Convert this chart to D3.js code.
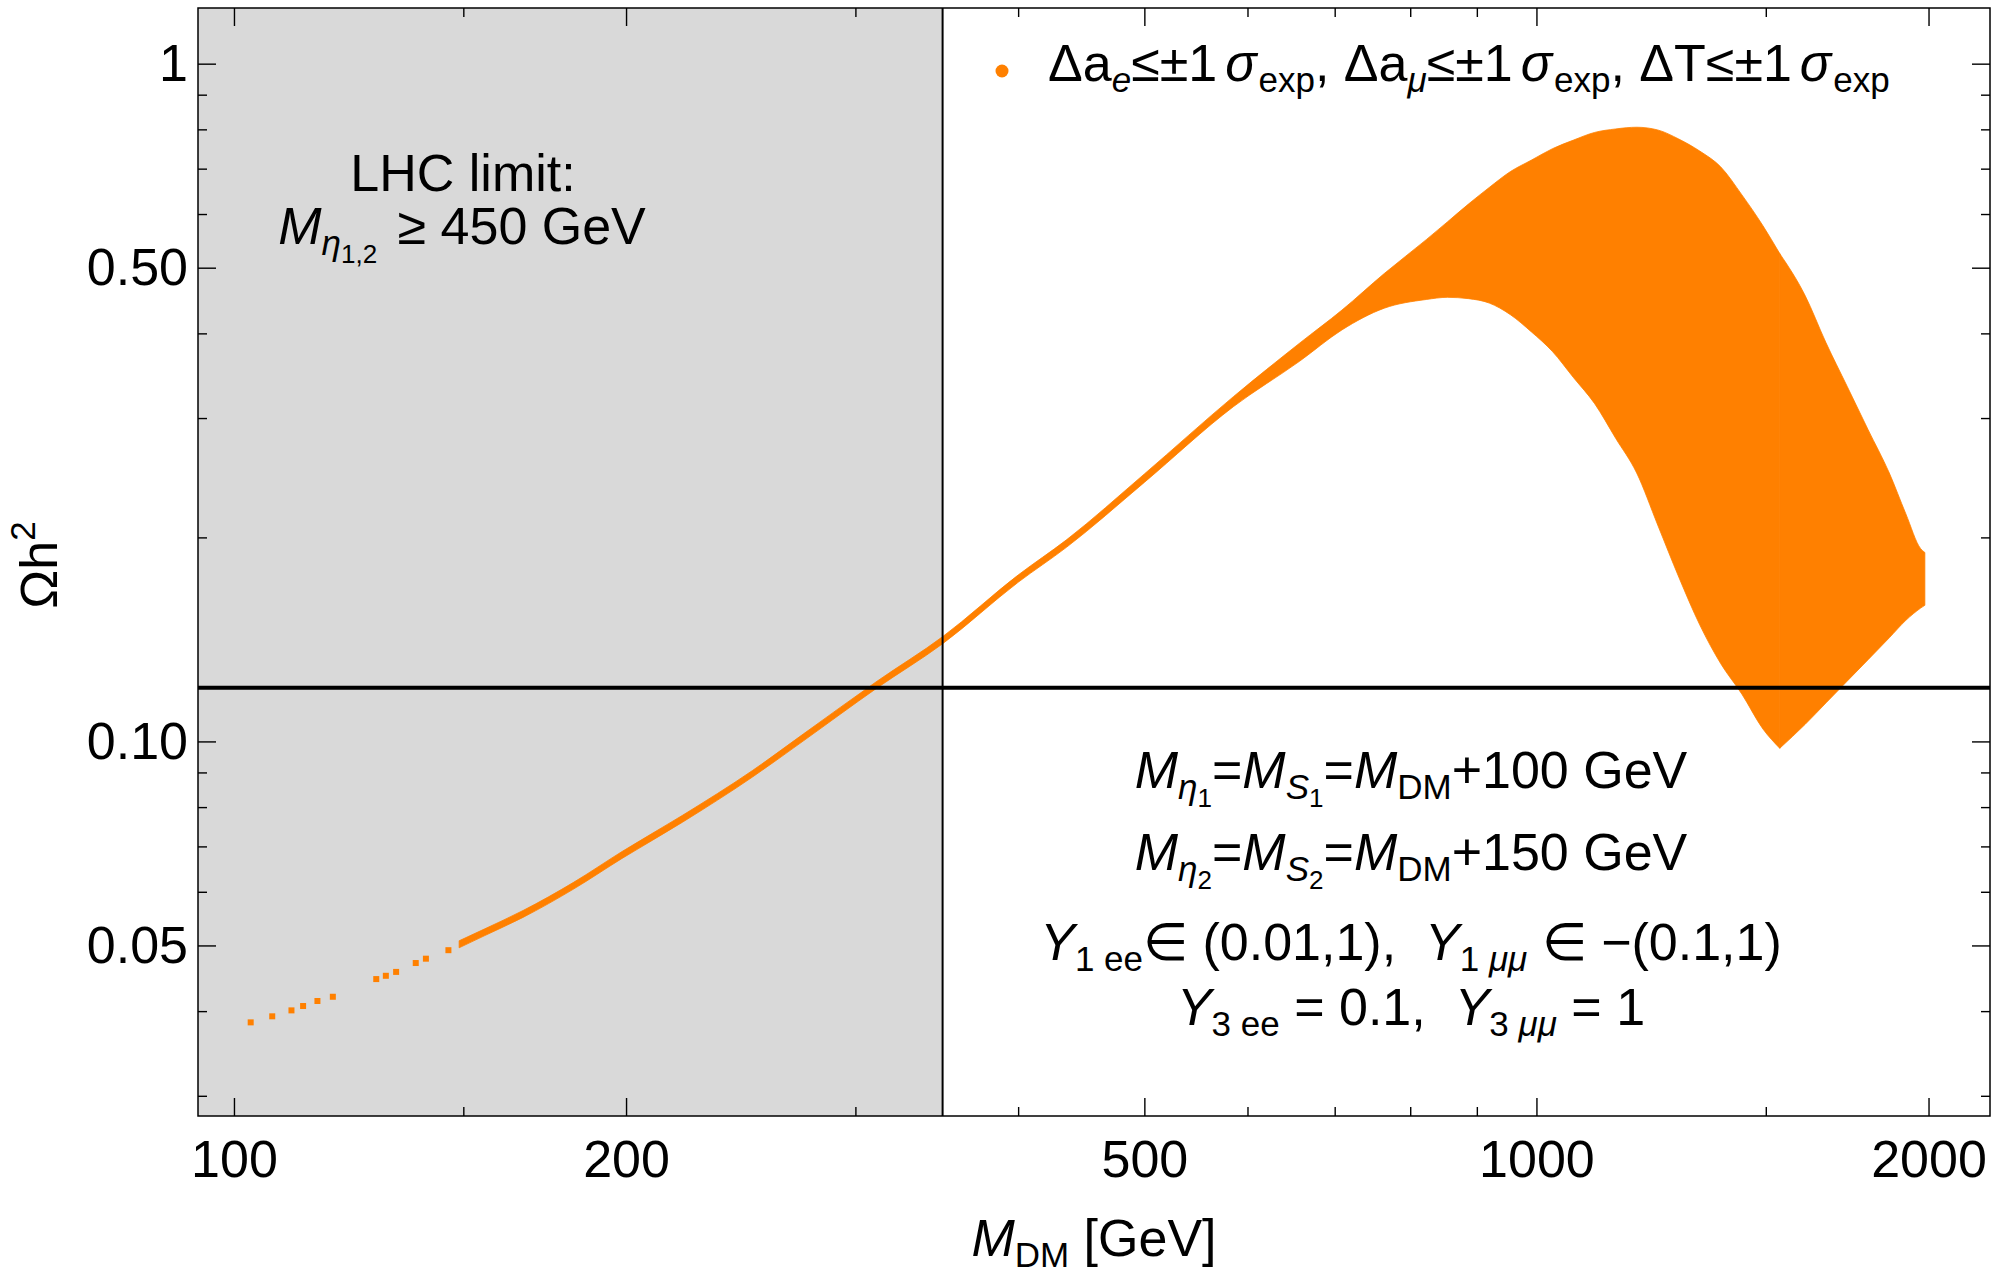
<!DOCTYPE html>
<html lang="en">
<head>
<meta charset="UTF-8">
<title>Relic density vs dark matter mass</title>
<script src="https://d3js.org/d3.v7.min.js"></script>
<style>
  body { margin: 0; background: #fff; }
  svg text { font-family: "Liberation Sans", Arial, Helvetica, sans-serif; fill: #000; white-space: pre; }
</style>
</head>
<body>
<script>
// sparse scan points at the low mass end
var dotMass  = [103.0, 107.0, 110.7, 113.0, 115.9, 119.1, 128.6, 130.8, 133.2, 137.9, 140.4, 146.1];
var dotOmega = [0.0385, 0.0393, 0.0401, 0.0407, 0.0414, 0.0420, 0.0446, 0.0451, 0.0457, 0.0471, 0.0478, 0.0492];

// dense part of the scan, read as upper / lower envelope
var bandMass  = [148.9, 155.8, 166.7, 182.4, 198.6, 221.0, 250.1, 273.7, 311.7, 350.1,
                 400.0, 435.9, 500.0, 585.2, 658.2, 709.0, 764.1, 823.0, 854.3, 886.7,
                 919.9, 955.0, 991.3, 1028.7, 1067.8, 1108.4, 1150.3, 1193.9, 1239.1, 1286.1,
                 1334.7, 1385.3, 1438.0, 1492.5, 1537.5, 1607.6, 1668.6, 1731.9, 1797.3, 1866.0,
                 1921.5, 1972.4, 1987.1];
var bandUpper = [0.0508, 0.0529, 0.0563, 0.0620, 0.0688, 0.0778, 0.0906, 0.1026, 0.1227, 0.1428,
                 0.1760, 0.1985, 0.2481, 0.3226, 0.3872, 0.4329, 0.4902, 0.5500, 0.5841, 0.6206,
                 0.6566, 0.6931, 0.7207, 0.7491, 0.7714, 0.7917, 0.8011, 0.8058, 0.7984, 0.7741,
                 0.7431, 0.7040, 0.6403, 0.5765, 0.5245, 0.4553, 0.3873, 0.3342, 0.2884, 0.2489,
                 0.2166, 0.1925, 0.1900];
var bandLower = [0.0496, 0.0517, 0.0550, 0.0606, 0.0672, 0.0760, 0.0886, 0.1002, 0.1199, 0.1394,
                 0.1717, 0.1935, 0.2411, 0.3118, 0.3641, 0.4047, 0.4357, 0.4488, 0.4521, 0.4501,
                 0.4434, 0.4262, 0.4019, 0.3761, 0.3441, 0.3150, 0.2801, 0.2489, 0.2086, 0.1748,
                 0.1486, 0.1302, 0.1174, 0.1043, 0.0977, 0.1059, 0.1140, 0.1227, 0.1320, 0.1422,
                 0.1509, 0.1573, 0.1588];
var tipMass = 1537.5;      // lowest point of the band

var xMajor = [100, 200, 500, 1000, 2000];
var xMinor = [150, 300, 400, 600, 700, 800, 900, 1500];
var yMajor = [0.05, 0.1, 0.5, 1];
var yMajorLabels = ["0.05", "0.10", "0.50", "1"];
var yMinor = [0.03, 0.04, 0.06, 0.07, 0.08, 0.09, 0.2, 0.3, 0.4, 0.6, 0.7, 0.8, 0.9];

var relicDensity = 0.12;   // horizontal line
var lhcMassLimit = 350;    // M_DM + 100 GeV = 450 GeV

var W = 2001, H = 1276;
var pLeft = 198, pRight = 1990, pTop = 8, pBottom = 1116;
var orange = "#ff8000";

var svg = d3.select("body").append("svg")
    .attr("width", W)
    .attr("height", H);

var x = d3.scaleLog().domain([93.84, 2229.6]).range([pLeft, pRight]);
var y = d3.scaleLog().domain([0.02801, 1.2082]).range([pBottom, pTop]);

// excluded region
svg.append("rect")
    .attr("x", pLeft)
    .attr("y", pTop)
    .attr("width", x(lhcMassLimit) - pLeft)
    .attr("height", pBottom - pTop)
    .attr("fill", "#d9d9d9");

// allowed points; split at the tip so it stays sharp
var band = bandMass.map(function(m, i) { return [m, bandLower[i], bandUpper[i]]; });
var area = d3.area()
    .curve(d3.curveMonotoneX)
    .x(function(d) { return x(d[0]); })
    .y0(function(d) { return y(d[1]); })
    .y1(function(d) { return y(d[2]); });
svg.selectAll("path.band")
    .data([band.filter(function(d) { return d[0] <= tipMass; }),
           band.filter(function(d) { return d[0] >= tipMass; })])
    .enter()
    .append("path")
    .attr("class", "band")
    .attr("fill", orange)
    .attr("stroke", orange)
    .attr("stroke-width", 0.8)
    .attr("d", area);

svg.selectAll("rect.dot")
    .data(dotMass)
    .enter()
    .append("rect")
    .attr("class", "dot")
    .attr("x", function(d) { return x(d) - 3; })
    .attr("y", function(d, i) { return y(dotOmega[i]) - 3; })
    .attr("width", 6)
    .attr("height", 6)
    .attr("fill", orange);

// relic density and LHC lines
svg.append("line")
    .attr("x1", pLeft).attr("x2", pRight)
    .attr("y1", y(relicDensity)).attr("y2", y(relicDensity))
    .attr("stroke", "#000").attr("stroke-width", 4);
svg.append("line")
    .attr("x1", x(lhcMassLimit)).attr("x2", x(lhcMassLimit))
    .attr("y1", pTop).attr("y2", pBottom)
    .attr("stroke", "#000").attr("stroke-width", 2);

// frame ticks
function axis(gen, scale, vals, len, tx, ty, fmt, pad) {
    var g = svg.append("g")
        .attr("transform", "translate(" + tx + "," + ty + ")")
        .call(gen(scale).tickValues(vals).tickSizeInner(-len).tickSizeOuter(0)
            .tickPadding(pad || 0).tickFormat(fmt || ""));
    g.select(".domain").remove();
    g.selectAll("line").attr("stroke", "#000").attr("stroke-width", 1.4);
    g.attr("font-size", null).attr("font-family", null);
    g.selectAll("text").style("font-size", "52px");
    return g;
}
axis(d3.axisBottom, x, xMajor, 18, 0, pBottom, function(d) { return d; }, 24);
axis(d3.axisBottom, x, xMinor, 9, 0, pBottom);
axis(d3.axisTop, x, xMajor, 18, 0, pTop);
axis(d3.axisTop, x, xMinor, 9, 0, pTop);
axis(d3.axisLeft, y, yMajor, 18, pLeft, 0, function(d, i) { return yMajorLabels[i]; }, 10);
axis(d3.axisLeft, y, yMinor, 9, pLeft, 0);
axis(d3.axisRight, y, yMajor, 18, pRight, 0);
axis(d3.axisRight, y, yMinor, 9, pRight, 0);

svg.append("rect")
    .attr("x", pLeft).attr("y", pTop)
    .attr("width", pRight - pLeft).attr("height", pBottom - pTop)
    .attr("fill", "none").attr("stroke", "#000").attr("stroke-width", 1.5);

// text with sub/superscripts: [text, level, italic, dx]
var sizes = {"0": 52, "1": 35, "2": 26, "-1": 35};
var shifts = {"0": 0, "1": 11, "2": 19, "-1": -22};
function richText(parent, px, py, parts, anchor) {
    var t = parent.append("text")
        .attr("x", px).attr("y", py)
        .attr("text-anchor", anchor || "middle");
    var cur = 0;
    parts.forEach(function(p) {
        var lvl = String(p[1] || 0);
        var s = t.append("tspan")
            .attr("dy", shifts[lvl] - cur)
            .style("font-size", sizes[lvl] + "px")
            .text(p[0]);
        if (p[2]) s.style("font-style", "italic");
        if (p[3]) s.attr("dx", p[3]);
        cur = shifts[lvl];
    });
    return t;
}

// legend
svg.append("circle").attr("cx", 1002).attr("cy", 71).attr("r", 6.5).attr("fill", orange);
richText(svg, 1048, 81, [
    ["\u0394a"], ["e", 1, true], ["\u2264\u00b11"], ["\u03c3", 0, true, 8], ["exp", 1, false, 2],
    [", \u0394a"], ["\u03bc", 1, true], ["\u2264\u00b11"], ["\u03c3", 0, true, 8], ["exp", 1, false, 2],
    [", \u0394T\u2264\u00b11"], ["\u03c3", 0, true, 8], ["exp", 1, false, 2]
], "start");

// LHC note
richText(svg, 463, 191, [["LHC limit:"]]);
richText(svg, 462, 244, [["M", 0, true], ["\u03b7", 1, true], ["1,2", 2], [" \u2265 450 GeV", 0, false, 6]]);

// parameter notes
richText(svg, 1411, 788, [["M", 0, true], ["\u03b7", 1, true], ["1", 2], ["="], ["M", 0, true], ["S", 1, true], ["1", 2],
    ["="], ["M", 0, true], ["DM", 1], ["+100 GeV"]]);
richText(svg, 1411, 870, [["M", 0, true], ["\u03b7", 1, true], ["2", 2], ["="], ["M", 0, true], ["S", 1, true], ["2", 2],
    ["="], ["M", 0, true], ["DM", 1], ["+150 GeV"]]);
richText(svg, 1411, 960, [["Y", 0, true], ["1 ee", 1], ["\u2208 (0.01,1),  "], ["Y", 0, true], ["1 ", 1], ["\u03bc\u03bc", 1, true],
    [" \u2208 \u2212(0.1,1)"]]);
richText(svg, 1411, 1025, [["Y", 0, true], ["3 ee", 1], [" = 0.1,  "], ["Y", 0, true], ["3 ", 1], ["\u03bc\u03bc", 1, true], [" = 1"]]);

// axis titles
richText(svg, (pLeft + pRight) / 2, 1256, [["M", 0, true], ["DM", 1], [" [GeV]"]]);
var yt = svg.append("g").attr("transform", "translate(57," + ((pTop + pBottom) / 2 + 3) + ") rotate(-90)");
richText(yt, 0, 0, [["\u03a9h"], ["2", -1]]);
</script>
</body>
</html>
